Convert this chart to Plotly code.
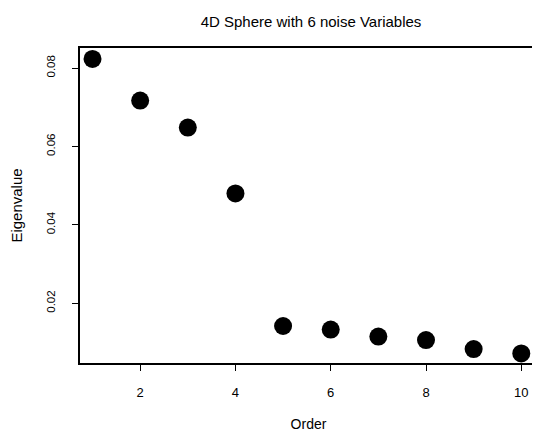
import plotly.graph_objects as go

order = [1, 2, 3, 4, 5, 6, 7, 8, 9, 10]
eigenvalue = [0.0823, 0.0717, 0.0648, 0.0480, 0.0142, 0.0133, 0.0115, 0.0106, 0.0083, 0.0072]
x_ticks = [2, 4, 6, 8, 10]
y_ticks = [0.02, 0.04, 0.06, 0.08]
y_tick_labels = ["0.02", "0.04", "0.06", "0.08"]

font = "Liberation Sans, Arial, sans-serif"

# The page body has an 8px default margin, so the figure is laid out 8px smaller
W, H = 532, 424

fig = go.Figure(
    go.Scatter(
        x=order, y=eigenvalue, mode="markers",
        marker=dict(size=18, color="black", line=dict(width=0)),
    )
)

fig.update_layout(
    width=W, height=H,
    margin=dict(l=72, r=3, t=40, b=69),
    paper_bgcolor="white", plot_bgcolor="white",
    showlegend=False,
    font=dict(family=font, color="black", size=13),
    title=dict(text="4D Sphere with 6 noise Variables", x=(311 - 8) / W, xanchor="center",
               y=1 - 13.7 / H, yanchor="middle", font=dict(size=15, family=font)),
)

fig.update_xaxes(
    range=[0.737, 10.33], tickvals=x_ticks, ticktext=[str(v) for v in x_ticks],
    showgrid=False, zeroline=False, showline=True, linecolor="black", linewidth=1.5,
    mirror=True, ticks="outside", ticklen=6, tickwidth=1.2, tickcolor="black",
    tickfont=dict(size=13), ticklabelstandoff=11, automargin=False,
    title=dict(text="Order", font=dict(size=14), standoff=22),
)
fig.update_yaxes(
    range=[0.00476, 0.0851], tickvals=y_ticks, ticktext=y_tick_labels,
    showgrid=False, zeroline=False, showline=True, linecolor="black", linewidth=1.5,
    mirror=True, ticks="outside", ticklen=6, tickwidth=1.2, tickcolor="black",
    tickangle=-90, tickfont=dict(size=11.5), ticklabelstandoff=13, automargin=False,
    title=dict(text="Eigenvalue", font=dict(size=15), standoff=21),
)

fig.write_html("out.html")
